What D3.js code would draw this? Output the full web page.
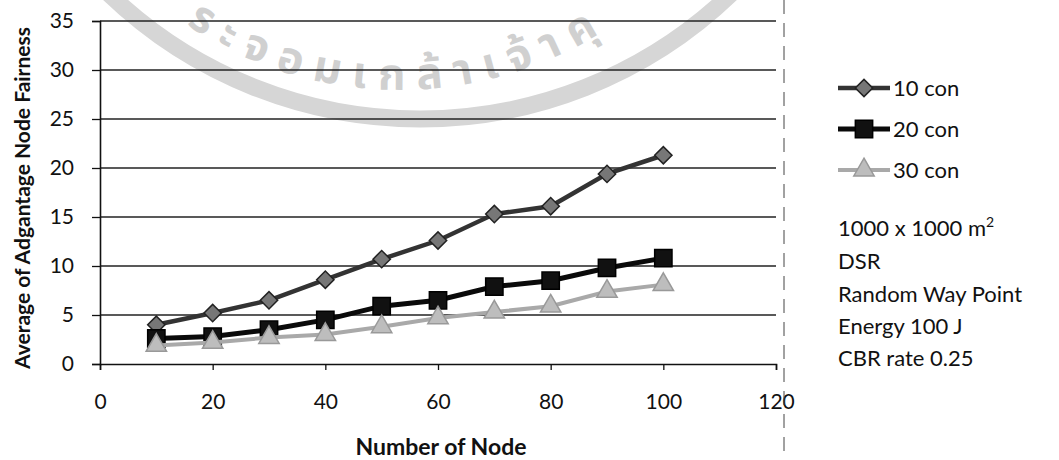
<!DOCTYPE html>
<html>
<head>
<meta charset="utf-8">
<script src="https://cdn.jsdelivr.net/npm/d3@7"></script>
<style>
  body { margin: 0; background: #fff; }
  text { font-family: Lato, "Open Sans", sans-serif; fill: #111; }
</style>
</head>
<body>
<div id="chart"></div>
<script>
// Data
const nodes = [10, 20, 30, 40, 50, 60, 70, 80, 90, 100];
const con10 = [4.0, 5.2, 6.5, 8.6, 10.7, 12.6, 15.3, 16.1, 19.4, 21.3];
const con20 = [2.6, 2.8, 3.5, 4.5, 5.9, 6.5, 7.9, 8.5, 9.8, 10.8];
const con30 = [1.9, 2.2, 2.7, 3.0, 3.8, 4.7, 5.3, 5.9, 7.4, 8.1];
const seriesNames = ['10 con', '20 con', '30 con'];
const xTicks = [0, 20, 40, 60, 80, 100, 120];
const yTicks = [0, 5, 10, 15, 20, 25, 30, 35];
const notes = ['1000 x 1000 m', 'DSR', 'Random Way Point', 'Energy 100 J', 'CBR rate 0.25'];

const W = 1059, H = 460;

const svg = d3.select('#chart')
  .append('svg')
  .attr('width', W)
  .attr('height', H)
  .attr('viewBox', `0 0 ${W} ${H}`);

svg.append('rect').attr('width', W).attr('height', H).attr('fill', '#fff');

// faint stamp from the scan
const stamp = svg.append('g');
stamp.append('circle')
  .attr('cx', 420).attr('cy', -330).attr('r', 449)
  .attr('fill', 'none')
  .attr('stroke', '#d6d6d6')
  .attr('stroke-width', 17);
const r = 380, cx = 400, cy = -290;
const a1 = Math.PI * 0.69, a2 = Math.PI * 0.22;
svg.append('defs').append('path')
  .attr('id', 'stampArc')
  .attr('d', `M${cx + r * Math.cos(a1)},${cy + r * Math.sin(a1)} A${r},${r} 0 0 0 ${cx + r * Math.cos(a2)},${cy + r * Math.sin(a2)}`);
stamp.append('text')
  .style('font-family', '"Noto Sans Thai", "Noto Sans", "DejaVu Sans", sans-serif')
  .style('font-size', '44px')
  .style('font-weight', 'bold')
  .style('fill', '#d0d0d0')
  .style('letter-spacing', '12px')
  .append('textPath')
  .attr('href', '#stampArc')
  .attr('startOffset', 0)
  .text('ระจอมเกล้าเจ้าคุ');

// scales
const x = d3.scaleLinear().domain([0, 120]).range([100, 776]);
const y = d3.scaleLinear().domain([0, 35]).range([364, 21]);

// gridlines
svg.append('g')
  .selectAll('line')
  .data(yTicks.filter(d => d > 0))
  .enter()
  .append('line')
  .attr('x1', x(0)).attr('x2', x(120))
  .attr('y1', d => y(d)).attr('y2', d => y(d))
  .attr('stroke', '#222')
  .attr('stroke-width', 1.3);

// axes
const xAxis = svg.append('g')
  .attr('transform', `translate(0,${y(0)})`)
  .call(d3.axisBottom(x).tickValues(xTicks).tickSize(6).tickPadding(24));
const yAxis = svg.append('g')
  .attr('transform', `translate(${x(0)},0)`)
  .call(d3.axisLeft(y).tickValues(yTicks).tickSize(8).tickPadding(18));

[xAxis, yAxis].forEach(ax => {
  ax.select('.domain').attr('stroke', '#111').attr('stroke-width', 1.6);
  ax.selectAll('.tick line').attr('stroke', '#111').attr('stroke-width', 1.3);
  ax.selectAll('.tick text').style('font-size', '21px').style('font-family', 'Lato, sans-serif').attr('fill', '#111');
});

// dashed edge left by the scan
svg.append('line')
  .attr('x1', 784).attr('x2', 784)
  .attr('y1', 0).attr('y2', H)
  .attr('stroke', '#444')
  .attr('stroke-width', 1)
  .attr('stroke-dasharray', '14 9');

// series
const series = [
  { name: seriesNames[0], values: con10, line: '#333', width: 4.5, symbol: d3.symbolSquare, size: 150, rotate: 45, fill: '#777', stroke: '#222' },
  { name: seriesNames[1], values: con20, line: '#0a0a0a', width: 5, symbol: d3.symbolSquare, size: 300, rotate: 0, fill: '#111', stroke: '#000' },
  { name: seriesNames[2], values: con30, line: '#a9a9a9', width: 4, symbol: d3.symbolTriangle, size: 180, rotate: 0, fill: '#bdbdbd', stroke: '#999' }
];

const line = d3.line()
  .x((d, i) => x(nodes[i]))
  .y(d => y(d));

series.forEach(s => {
  svg.append('path')
    .datum(s.values)
    .attr('d', line)
    .attr('fill', 'none')
    .attr('stroke', s.line)
    .attr('stroke-width', s.width);

  svg.append('g')
    .selectAll('path')
    .data(s.values)
    .enter()
    .append('path')
    .attr('d', d3.symbol(s.symbol, s.size))
    .attr('transform', (d, i) => `translate(${x(nodes[i])},${y(d)}) rotate(${s.rotate})`)
    .attr('fill', s.fill)
    .attr('stroke', s.stroke)
    .attr('stroke-width', 1.5);
});

// legend
const legend = svg.append('g').attr('transform', 'translate(838,0)');
const rowY = [88, 129, 170];
series.forEach((s, i) => {
  const g = legend.append('g').attr('transform', `translate(0,${rowY[i]})`);
  g.append('line')
    .attr('x1', 0).attr('x2', 52)
    .attr('stroke', s.line)
    .attr('stroke-width', s.width);
  g.append('path')
    .attr('d', d3.symbol(s.symbol, s.size))
    .attr('transform', `translate(26,0) rotate(${s.rotate})`)
    .attr('fill', s.fill)
    .attr('stroke', s.stroke)
    .attr('stroke-width', 1.5);
  g.append('text')
    .attr('x', 55)
    .attr('y', 8)
    .style('font-size', '22px')
    .text(s.name);
});

// simulation notes
const noteY = [236, 269, 302, 334, 366];
notes.forEach((t, i) => {
  const txt = svg.append('text')
    .attr('x', 838)
    .attr('y', noteY[i])
    .style('font-size', '22px')
    .text(t);
  if (i === 0) {
    txt.append('tspan')
      .attr('dy', -9)
      .style('font-size', '14px')
      .text('2');
  }
});

// axis titles
svg.append('text')
  .attr('x', 441)
  .attr('y', 455)
  .attr('text-anchor', 'middle')
  .style('font-size', '23px')
  .style('font-weight', 'bold')
  .text('Number of Node');

svg.append('text')
  .attr('transform', 'translate(30,198) rotate(-90)')
  .attr('text-anchor', 'middle')
  .style('font-size', '21px')
  .style('font-weight', 'bold')
  .text('Average of Adgantage Node Fairness');
</script>
</body>
</html>
